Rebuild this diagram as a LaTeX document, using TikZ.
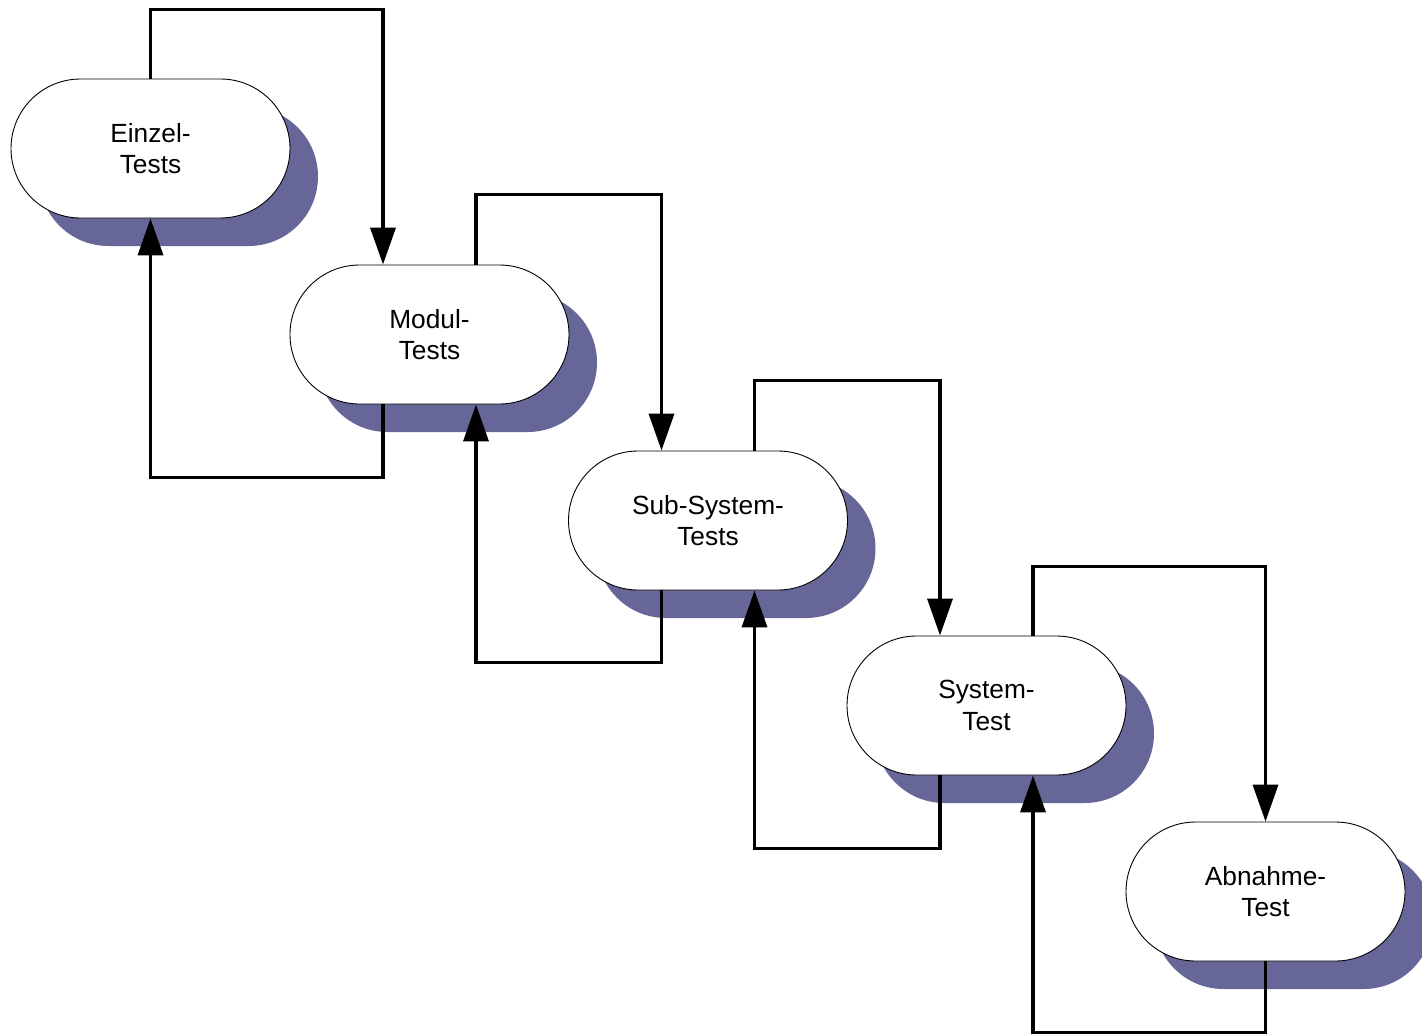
\documentclass[tikz,border=0pt]{standalone}
\usepackage{fontspec}
\setmainfont{Liberation Sans}
\usetikzlibrary{shapes.misc,shadows,arrows.meta}
\definecolor{shadowc}{RGB}{102,102,153}
\begin{document}
\begin{tikzpicture}[x=1pt,y=-1pt,
  testbox/.style={draw=black, line width=0.9pt, fill=white, rounded rectangle,
    minimum width=279pt, minimum height=139pt, inner sep=0pt, align=center,
    font=\fontsize{26.3}{31.5}\selectfont,
    general shadow={fill=shadowc, shadow xshift=28pt, shadow yshift=-28pt}},
  conn/.style={draw=black, line width=3.6pt, -{Triangle[length=37pt,width=25pt]}}]
\clip (0,0) rectangle (1422,1034);
\fill[white] (0,0) rectangle (1422,1034);
\node[testbox] (n1) at (150.5,148.5) {Einzel-\\Tests};
\node[testbox] (n2) at (429.5,334.5) {Modul-\\Tests};
\node[testbox] (n3) at (708,520.5) {Sub-System-\\Tests};
\node[testbox] (n4) at (986.5,705.5) {System-\\Test};
\node[testbox] (n5) at (1265.5,891.5) {Abnahme-\\Test};
% forward connectors
\draw[conn] (n1.north) -- ++(0,-69) -| ([xshift=-46.5pt]n2.north);
\draw[conn] ([xshift=46.5pt]n2.north) -- ++(0,-70) -| ([xshift=-46.5pt]n3.north);
\draw[conn] ([xshift=46.5pt]n3.north) -- ++(0,-70) -| ([xshift=-46.5pt]n4.north);
\draw[conn] ([xshift=46.5pt]n4.north) -- ++(0,-69) -| (n5.north);
% backward connectors
\draw[conn] ([xshift=-46.5pt]n2.south) -- ++(0,73) -| (n1.south);
\draw[conn] ([xshift=-46.5pt]n3.south) -- ++(0,72) -| ([xshift=46.5pt]n2.south);
\draw[conn] ([xshift=-46.5pt]n4.south) -- ++(0,73) -| ([xshift=46.5pt]n3.south);
\draw[conn] (n5.south) -- ++(0,71) -| ([xshift=46.5pt]n4.south);
\end{tikzpicture}
\end{document}
